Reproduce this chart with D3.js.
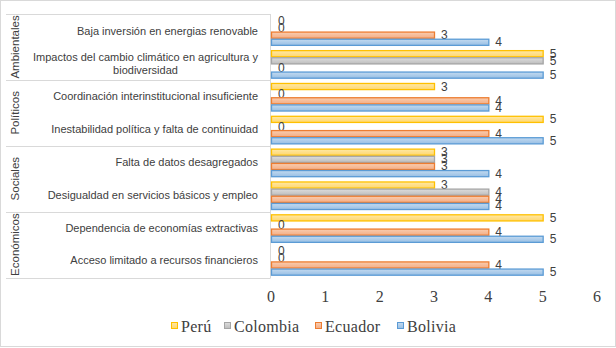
<!DOCTYPE html>
<html lang="es">
<head>
<meta charset="utf-8">
<title>Barreras por país</title>
<script src="https://d3js.org/d3.v7.min.js"></script>
<style>
  body { margin: 0; background: #fff; }
  svg { display: block; }
</style>
</head>
<body>
<div id="chart"></div>
<script>
var groups = ["Ambientales", "Políticos", "Sociales", "Económicos"];
var categories = [
  "Baja inversión en energias renovable",
  "Impactos del cambio climático en agricultura y|biodiversidad",
  "Coordinación interinstitucional insuficiente",
  "Inestabilidad política y falta de continuidad",
  "Falta de datos desagregados",
  "Desigualdad en servicios básicos y empleo",
  "Dependencia de economías extractivas",
  "Acceso limitado a recursos financieros"
];
var series = ["Perú", "Colombia", "Ecuador", "Bolivia"];
var peru     = [0, 5, 3, 5, 3, 3, 5, 0];
var colombia = [0, 5, 0, 0, 3, 4, 0, 0];
var ecuador  = [3, 0, 4, 4, 3, 4, 4, 4];
var bolivia  = [4, 5, 4, 5, 4, 4, 5, 5];
var xTicks = [0, 1, 2, 3, 4, 5, 6];

var values = [peru, colombia, ecuador, bolivia];
var fills = [["#ffe8a6", "#ffd76e"], ["#dddddd", "#bdbdbd"], ["#f9cdb0", "#f4ad84"], ["#c3daf0", "#98bfe4"]];
var strokes = ["#ffc000", "#a5a5a5", "#ed7d31", "#5b9bd5"];

var width = 616, height = 348;
var svg = d3.select("#chart").append("svg")
    .attr("width", width).attr("height", height);

var defs = svg.append("defs");
series.forEach(function(s, i) {
  var g = defs.append("linearGradient").attr("id", "grad" + i)
      .attr("x1", 0).attr("y1", 0).attr("x2", 0).attr("y2", 1);
  g.append("stop").attr("offset", "0%").attr("stop-color", fills[i][0]);
  g.append("stop").attr("offset", "100%").attr("stop-color", fills[i][1]);
});

svg.append("rect")
    .attr("x", 0.5).attr("y", 0.5).attr("width", 615).attr("height", 346)
    .attr("fill", "#fff").attr("stroke", "#d9d9d9");

var x = d3.scaleLinear().domain([0, 6]).range([271, 597]);
var y = d3.scaleBand().domain(d3.range(categories.length)).range([15, 278])
    .paddingInner(0.13).paddingOuter(0.07);
var ySub = d3.scaleBand().domain(d3.range(series.length)).range([0, y.bandwidth()]);
var yGroup = d3.scaleBand().domain(groups).range([14, 277.5]);

// group separators + axis line
var seps = groups.map(function(g) { return yGroup(g); }).concat([yGroup.range()[1]]);
svg.selectAll(".sep").data(seps).enter().append("line")
    .attr("x1", 6).attr("x2", 270.5)
    .attr("y1", function(d) { return Math.round(d) + 0.5; })
    .attr("y2", function(d) { return Math.round(d) + 0.5; })
    .attr("stroke", "#d9d9d9");
svg.append("line")
    .attr("x1", 270.5).attr("x2", 270.5).attr("y1", 14).attr("y2", 278)
    .attr("stroke", "#d9d9d9");

// group labels
svg.selectAll(".grp").data(groups).enter().append("text")
    .attr("transform", function(d) {
      return "translate(15," + (yGroup(d) + yGroup.bandwidth() / 2) + ") rotate(-90)";
    })
    .attr("text-anchor", "middle").attr("dominant-baseline", "central")
    .attr("font-family", "Liberation Sans, Arial, sans-serif").attr("font-size", 11.5)
    .attr("fill", "#404040")
    .text(function(d) { return d; });

// category labels (multi-line ones centred as a block, right aligned)
categories.forEach(function(c, i) {
  var lines = c.split("|");
  var cy = y(i) + y.bandwidth() / 2 - 1;
  var t = svg.append("text")
      .attr("font-family", "Liberation Sans, Arial, sans-serif").attr("font-size", 11)
      .attr("fill", "#404040").attr("dominant-baseline", "central");
  lines.forEach(function(l, k) {
    t.append("tspan").attr("x", 258)
        .attr("y", cy + (k - (lines.length - 1) / 2) * 13.4)
        .text(l);
  });
  if (lines.length > 1) {
    var w = d3.max(t.selectAll("tspan").nodes(), function(n) { return n.getComputedTextLength(); });
    t.attr("text-anchor", "middle").selectAll("tspan").attr("x", 258 - w / 2);
  } else {
    t.attr("text-anchor", "end");
  }
});

// bars + data labels
series.forEach(function(s, si) {
  var g = svg.append("g");
  var rows = values[si].map(function(v, i) { return {v: v, i: i}; });
  g.selectAll("rect").data(rows.filter(function(d) { return d.v > 0; })).enter().append("rect")
      .attr("x", x(0) + 0.5)
      .attr("y", function(d) { return y(d.i) + ySub(si) + 0.5; })
      .attr("width", function(d) { return x(d.v) - x(0); })
      .attr("height", ySub.bandwidth() - 1)
      .attr("fill", "url(#grad" + si + ")")
      .attr("stroke", strokes[si]).attr("stroke-width", 1.3);
  g.selectAll("text").data(rows).enter().append("text")
      .attr("x", function(d) { return x(d.v) + 7; })
      .attr("y", function(d) { return y(d.i) + ySub(si) + ySub.bandwidth() / 2; })
      .attr("dominant-baseline", "central")
      .attr("font-family", "Liberation Sans, Arial, sans-serif").attr("font-size", 12)
      .attr("fill", "#404040")
      .text(function(d) { return d.v; });
});

// x axis labels
svg.selectAll(".tick").data(xTicks).enter().append("text")
    .attr("x", function(d) { return x(d); }).attr("y", 302)
    .attr("text-anchor", "middle")
    .attr("font-family", "Liberation Serif, Times New Roman, serif").attr("font-size", 16)
    .attr("fill", "#404040")
    .text(function(d) { return d; });

// legend
var legX = [171, 224, 315, 397];
var leg = svg.selectAll(".leg").data(series).enter().append("g")
    .attr("transform", function(d, i) { return "translate(" + legX[i] + ",322)"; });
leg.append("rect").attr("x", 0.5).attr("y", 0.5).attr("width", 6).attr("height", 6)
    .attr("fill", function(d, i) { return "url(#grad" + i + ")"; })
    .attr("stroke", function(d, i) { return strokes[i]; });
leg.append("text").attr("x", 10).attr("y", 10)
    .attr("font-family", "Liberation Serif, Times New Roman, serif").attr("font-size", 16)
    .attr("letter-spacing", 0.3)
    .attr("fill", "#404040")
    .text(function(d) { return d; });
</script>
</body>
</html>
